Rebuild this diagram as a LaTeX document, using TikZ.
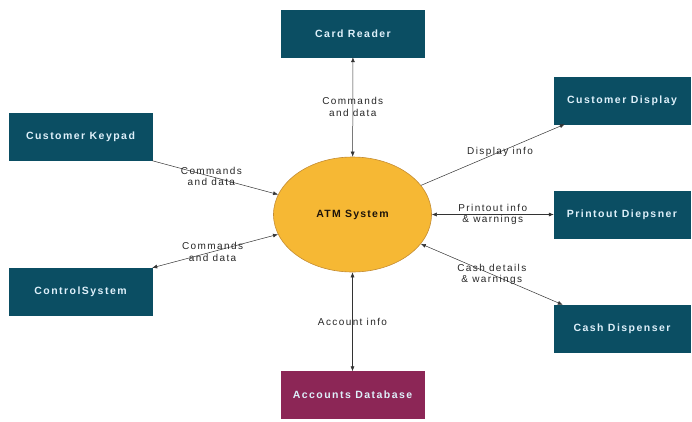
\documentclass[tikz,border=0pt]{standalone}
\usepackage{fontspec}
\setmainfont{Liberation Sans}
\usetikzlibrary{shapes.geometric,arrows.meta}
\definecolor{boxteal}{RGB}{11,78,99}
\definecolor{dbred}{RGB}{140,38,86}
\definecolor{atmfill}{RGB}{246,184,52}
\definecolor{atmline}{RGB}{196,140,50}
\definecolor{boxtext}{RGB}{222,240,250}
\tikzset{
  ent/.style={rectangle, fill=boxteal, draw=boxteal, text=boxtext,
    font=\fontsize{10.5}{12}\selectfont\bfseries\addfontfeature{LetterSpace=14}, minimum width=143pt, minimum height=47pt, inner sep=0pt},
  db/.style={ent, fill=dbred, draw=dbred},
  proc/.style={ellipse, fill=atmfill, draw=atmline, line width=0.6pt,
    minimum width=158pt, minimum height=115pt, inner sep=0pt,
    font=\fontsize{10.5}{12}\selectfont\bfseries\addfontfeature{LetterSpace=12}, text=black!85!brown},
  flow/.style={draw=black!80, line width=0.5pt},
  tip/.style={-{Latex[length=5pt,width=4pt]}},
  tips/.style={{Latex[length=5pt,width=4pt]}-{Latex[length=5pt,width=4pt]}},
  lbl/.style={font=\fontsize{10}{11.5}\selectfont\addfontfeature{LetterSpace=14}, align=center, text=black!85, inner sep=0pt}
}
\begin{document}
\begin{tikzpicture}[x=1pt,y=-1pt]
\useasboundingbox (0,0) rectangle (692,421);
\node[proc] (atm) at (352.5,214.5) {ATM System};
\node[ent] (card) at (353,33.5) {Card Reader};
\node[ent] (kp) at (80.5,137) {Customer Keypad};
\node[ent, minimum width=136pt] (cd) at (622,100.5) {Customer Display};
\node[ent, minimum width=136pt] (pd) at (622,214.5) {Printout Diepsner};
\node[ent] (cs) at (80.5,291.5) {ControlSystem};
\node[ent, minimum width=136pt] (cash) at (622,328.5) {Cash Dispenser};
\node[db] (adb) at (352.5,395) {Accounts Database};

\draw[flow,tips] (card) -- node[lbl] {Commands\\and data} (atm);
\draw[flow,tip] (kp.south east) -- node[lbl,pos=0.47] {Commands\\and data} (atm);
\draw[flow,tips] (cs.north east) -- node[lbl,pos=0.48] {Commands\\and data} (atm);
\coordinate (cdend) at ([xshift=11pt]cd.south west);
\draw[flow,tip] (atm) -- node[lbl,pos=0.55] {Display info} (cdend);
\draw[flow,tips] (atm) -- node[lbl] {Printout info\\\& warnings} (pd);
\coordinate (cashend) at ([xshift=9pt]cash.north west);
\draw[flow,tips] (atm) -- node[lbl,pos=0.5] {Cash details\\\& warnings} (cashend);
\draw[flow,tips] (atm) -- node[lbl] {Account info} (adb);
\end{tikzpicture}
\end{document}
